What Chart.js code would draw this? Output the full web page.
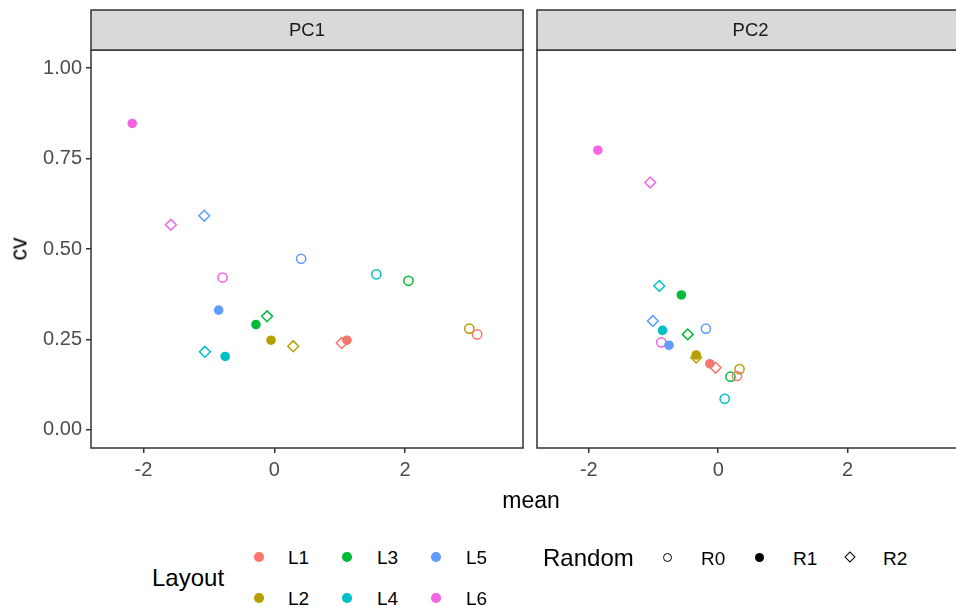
<!DOCTYPE html>
<html>
<head>
<meta charset="utf-8">
<script src="https://cdn.jsdelivr.net/npm/chart.js@4.4.1/dist/chart.umd.min.js"></script>
<style>
  html, body { margin: 0; padding: 0; background: #fff; }
  body { width: 956px; height: 606px; overflow: hidden; position: relative; font-family: "Liberation Sans", Arial, sans-serif; }
  canvas { position: absolute; top: 0; }
  .txt { position: absolute; white-space: nowrap; color: #000; line-height: 1; }
  .key { position: absolute; box-sizing: border-box; }
</style>
</head>
<body>
<canvas id="pc1" width="530" height="490" style="left:0"></canvas>
<canvas id="pc2" width="444" height="490" style="left:527px"></canvas>

<div class="txt" style="left:531px; top:500px; font-size:23px; transform:translate(-50%,-50%)">mean</div>
<div class="txt" style="left:19px; top:249px; font-size:23px; transform:translate(-50%,-50%) rotate(-90deg)">cv</div>

<div id="legend"></div>

<script>
// rows: L1..L6, columns: R0, R1, R2
const layouts = ['L1', 'L2', 'L3', 'L4', 'L5', 'L6'];
const randoms = ['R0', 'R1', 'R2'];
const layoutColors = ['#F8766D', '#B79F00', '#00BA38', '#00BFC4', '#619CFF', '#F564E3'];

const pc1Mean = [
  [3.10, 1.11, 1.03],
  [2.98, -0.05, 0.29],
  [2.05, -0.28, -0.11],
  [1.56, -0.75, -1.06],
  [0.41, -0.85, -1.07],
  [-0.79, -2.17, -1.58]
];
const pc1Cv = [
  [0.264, 0.248, 0.240],
  [0.280, 0.248, 0.231],
  [0.412, 0.291, 0.314],
  [0.430, 0.203, 0.216],
  [0.473, 0.331, 0.592],
  [0.421, 0.847, 0.567]
];
const pc2Mean = [
  [0.29, -0.13, -0.04],
  [0.33, -0.34, -0.34],
  [0.19, -0.57, -0.47],
  [0.10, -0.86, -0.91],
  [-0.19, -0.76, -1.01],
  [-0.88, -1.86, -1.05]
];
const pc2Cv = [
  [0.149, 0.183, 0.172],
  [0.168, 0.207, 0.200],
  [0.147, 0.373, 0.264],
  [0.086, 0.275, 0.398],
  [0.280, 0.234, 0.301],
  [0.242, 0.773, 0.684]
];

const xTicks = [-2, 0, 2];
const yTicks = [0, 0.25, 0.5, 0.75, 1];

// shape per Random level: open circle, filled circle, open diamond
const shapes = ['circle', 'circle', 'rectRot'];
const radii = [4.6, 4.8, 5.4];
const borders = [1.5, 0, 1.5];

function makeDatasets(means, cvs) {
  return layouts.map((lay, i) => ({
    label: lay,
    data: randoms.map((r, j) => ({ x: means[i][j], y: cvs[i][j] })),
    pointStyle: shapes,
    pointRadius: radii,
    pointHoverRadius: radii,
    pointBorderWidth: borders,
    pointBorderColor: layoutColors[i],
    pointBackgroundColor: randoms.map((r, j) => j === 1 ? layoutColors[i] : 'rgba(0,0,0,0)'),
    showLine: false
  }));
}

const panelFrame = {
  id: 'panelFrame',
  afterDraw(chart, args, opts) {
    const { ctx, chartArea: a } = chart;
    ctx.save();
    ctx.strokeStyle = '#333333';
    ctx.lineWidth = 1.5;
    ctx.strokeRect(a.left, a.top, a.right - a.left, a.bottom - a.top);
    // facet strip
    ctx.fillStyle = '#D9D9D9';
    ctx.fillRect(a.left, a.top - 40, a.right - a.left, 40);
    ctx.strokeRect(a.left, a.top - 40, a.right - a.left, 40);
    ctx.fillStyle = '#1A1A1A';
    ctx.font = '18.5px "Liberation Sans", Arial, sans-serif';
    ctx.textAlign = 'center';
    ctx.textBaseline = 'middle';
    ctx.fillText(opts.title, (a.left + a.right) / 2, a.top - 19);
    ctx.restore();
  }
};

function makeChart(id, title, means, cvs, showY) {
  const tickFont = { family: '"Liberation Sans", Arial, sans-serif', size: 20 };
  return new Chart(document.getElementById(id), {
    type: 'scatter',
    data: { datasets: makeDatasets(means, cvs) },
    options: {
      responsive: false,
      animation: false,
      layout: { padding: { top: 50, right: showY ? 7 : 0, left: showY ? 0 : 10, bottom: 0 } },
      plugins: {
        legend: { display: false },
        tooltip: { enabled: false },
        panelFrame: { title: title }
      },
      scales: {
        x: {
          type: 'linear',
          min: -2.8,
          max: 3.8,
          afterBuildTicks: s => { s.ticks = xTicks.map(v => ({ value: v })); },
          afterFit: s => { s.height = 42; },
          border: { display: false },
          grid: { drawOnChartArea: false, drawTicks: true, tickLength: 5, color: '#333333', lineWidth: 1.5 },
          ticks: { color: '#4D4D4D', font: tickFont, padding: 5, maxRotation: 0, callback: v => String(v) }
        },
        y: {
          type: 'linear',
          display: showY,
          min: -0.05,
          max: 1.05,
          afterBuildTicks: s => { s.ticks = yTicks.map(v => ({ value: v })); },
          afterFit: s => { s.width = showY ? 91 : 0; },
          border: { display: false },
          grid: { drawOnChartArea: false, drawTicks: true, tickLength: 5, color: '#333333', lineWidth: 1.5 },
          ticks: { color: '#4D4D4D', font: tickFont, padding: 4, callback: v => v.toFixed(2) }
        }
      }
    },
    plugins: [panelFrame]
  });
}

makeChart('pc1', 'PC1', pc1Mean, pc1Cv, true);
makeChart('pc2', 'PC2', pc2Mean, pc2Cv, false);

// legend (ggplot style, bottom)
const legend = document.getElementById('legend');
function addText(text, left, cy, size) {
  const d = document.createElement('div');
  d.className = 'txt';
  d.textContent = text;
  d.style.left = left + 'px';
  d.style.top = cy + 'px';
  d.style.fontSize = size + 'px';
  d.style.transform = 'translateY(-50%)';
  legend.appendChild(d);
}
function addKey(cx, cy, style) {
  const d = document.createElement('div');
  d.className = 'key';
  Object.assign(d.style, style);
  const w = parseFloat(style.width);
  d.style.left = (cx - w / 2) + 'px';
  d.style.top = (cy - w / 2) + 'px';
  legend.appendChild(d);
}

addText('Layout', 152, 578, 24);
const layoutKeyX = [259, 347, 436];
const layoutLabelX = [288, 377, 466];
const layoutRowY = [557, 598];
layouts.forEach((lay, i) => {
  const col = Math.floor(i / 2), row = i % 2;
  addKey(layoutKeyX[col], layoutRowY[row], { width: '9.5px', height: '9.5px', borderRadius: '50%', background: layoutColors[i] });
  addText(lay, layoutLabelX[col], layoutRowY[row], 19);
});

addText('Random', 543, 558, 24);
const randomKeyX = [667, 759, 850];
const randomLabelX = [701, 793, 883];
addKey(randomKeyX[0], 557, { width: '9px', height: '9px', borderRadius: '50%', border: '1.5px solid #000' });
addKey(randomKeyX[1], 557, { width: '9px', height: '9px', borderRadius: '50%', background: '#000' });
addKey(randomKeyX[2], 557, { width: '8px', height: '8px', border: '1.5px solid #000', transform: 'rotate(45deg)' });
randoms.forEach((r, j) => addText(r, randomLabelX[j], 558, 19));
</script>
</body>
</html>
